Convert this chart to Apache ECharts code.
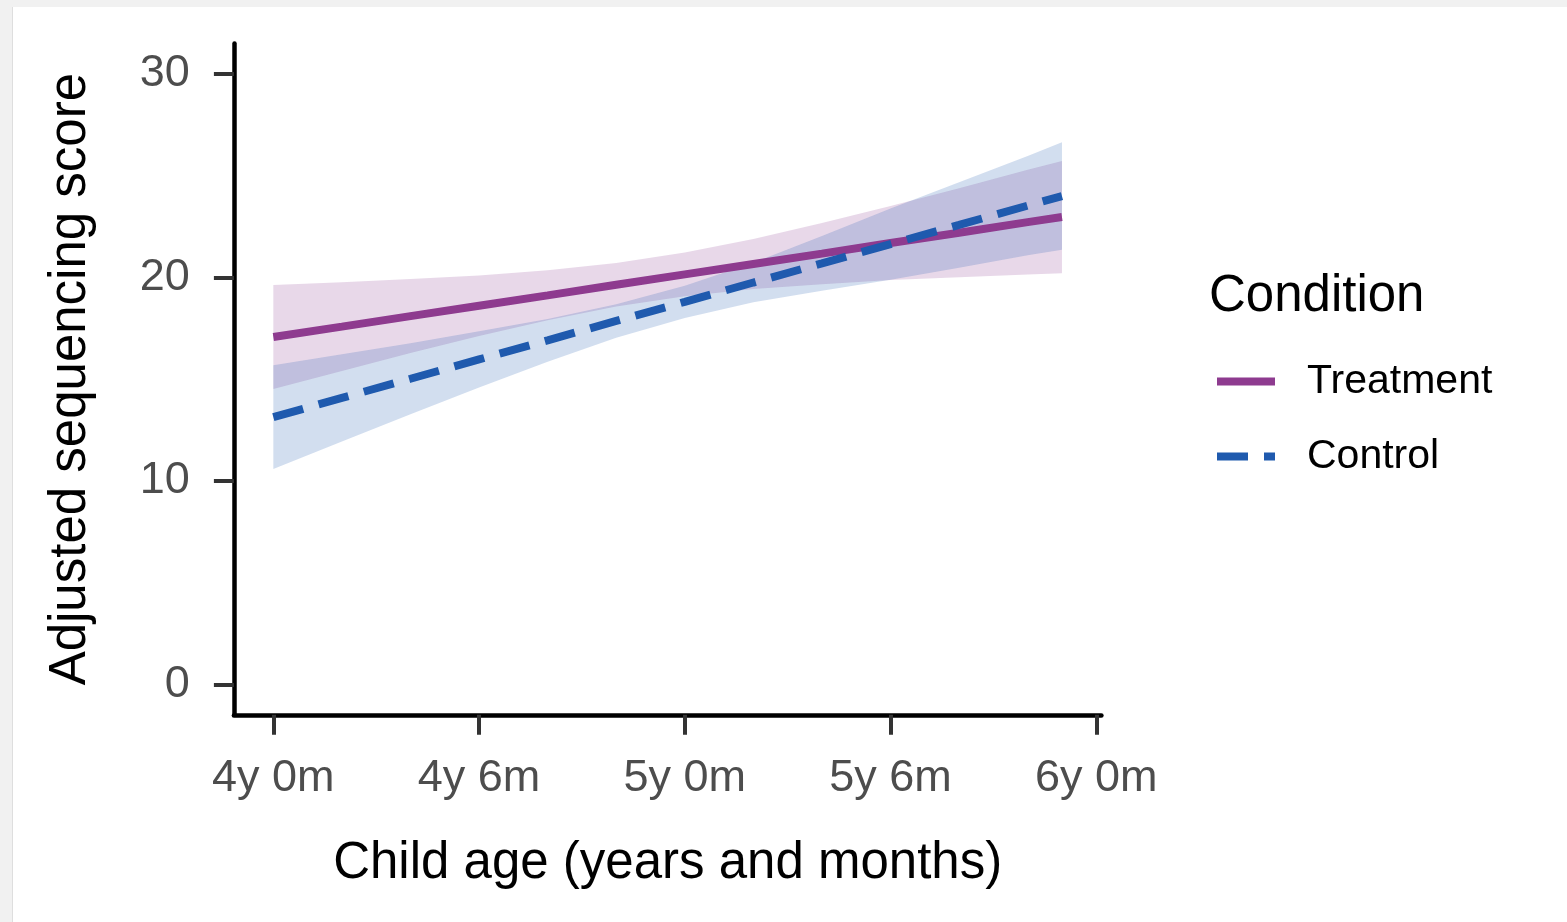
<!DOCTYPE html>
<html>
<head>
<meta charset="utf-8">
<script src="https://cdn.jsdelivr.net/npm/echarts@6/dist/echarts.min.js"></script>
<style>
  html, body { margin: 0; padding: 0; width: 1567px; height: 922px; background: #f1f1f1; overflow: hidden; }
  #panel { position: absolute; left: 12px; top: 7px; right: 0; bottom: 0; background: #ffffff; border-left: 1px solid #dedede; }
  #chart { position: absolute; left: 0; top: 0; width: 1567px; height: 922px; }
</style>
</head>
<body>
<div id="panel"></div>
<div id="chart"></div>
<script>
// ---- data ----
const months = [48, 50, 52, 54, 56, 58, 60, 62, 64, 66, 68, 70, 71];
const treatmentFit   = [17.07, 17.58, 18.10, 18.61, 19.12, 19.64, 20.15, 20.66, 21.17, 21.69, 22.20, 22.72, 22.97];
const treatmentUpper = [19.63, 19.76, 19.92, 20.10, 20.35, 20.71, 21.22, 21.89, 22.67, 23.51, 24.39, 25.29, 25.73];
const treatmentLower = [14.51, 15.40, 16.28, 17.12, 17.90, 18.57, 19.08, 19.43, 19.67, 19.87, 20.01, 20.15, 20.21];
const controlFit     = [13.13, 14.08, 15.02, 15.97, 16.91, 17.86, 18.80, 19.75, 20.69, 21.64, 22.58, 23.53, 24.00];
const controlUpper   = [15.68, 16.22, 16.77, 17.35, 17.96, 18.68, 19.59, 20.72, 22.04, 23.39, 24.68, 25.97, 26.64];
const controlLower   = [10.58, 11.94, 13.27, 14.59, 15.86, 17.04, 18.01, 18.78, 19.34, 19.89, 20.48, 21.09, 21.36];
const xTickValues = [48, 54, 60, 66, 72];
const xTickLabels = ['4y 0m', '4y 6m', '5y 0m', '5y 6m', '6y 0m'];
const yTickValues = [0, 10, 20, 30];
const seriesNames = ['Treatment', 'Control'];

// ---- styles ----
const FONT = '"Liberation Sans", Arial, Helvetica, sans-serif';
const treatColor = '#8E3B8F';
const ctrlColor = '#1F5AAE';

function bandSeries(name, lower, upper, fill) {
  return {
    type: 'custom',
    name: name,
    silent: true,
    data: months.map((m, i) => [m, lower[i], upper[i]]),
    encode: { x: 0, y: [1, 2] },
    renderItem: function (params, api) {
      if (params.dataIndex !== 0) return null;
      const pts = [];
      for (let i = 0; i < months.length; i++) pts.push(api.coord([months[i], upper[i]]));
      for (let i = months.length - 1; i >= 0; i--) pts.push(api.coord([months[i], lower[i]]));
      return { type: 'polygon', shape: { points: pts }, style: { fill: fill, stroke: null } };
    },
    z: 1
  };
}

const chart = echarts.init(document.getElementById('chart'), null, { renderer: 'canvas' });
chart.setOption({
  animation: false,
  backgroundColor: 'transparent',
  grid: { left: 233.9, right: 465.6, top: 43.5, bottom: 207.2, containLabel: false },
  xAxis: {
    type: 'value',
    min: 46.85, max: 72.15,
    axisLine: { show: true, onZero: false, lineStyle: { color: '#000', width: 4.5 } },
    axisTick: { show: true, length: 20, customValues: xTickValues, lineStyle: { color: '#333', width: 4 } },
    axisLabel: {
      customValues: xTickValues,
      margin: 41,
      fontSize: 45, fontFamily: FONT, color: '#4d4d4d', lineHeight: 45,
      formatter: function (v) { const i = xTickValues.indexOf(Math.round(v)); return i >= 0 ? xTickLabels[i] : ''; }
    },
    splitLine: { show: false },
    name: 'Child age (years and months)',
    nameLocation: 'middle',
    nameGap: 124,
    nameTextStyle: { fontSize: 51, fontFamily: FONT, color: '#000', lineHeight: 51 }
  },
  yAxis: {
    type: 'value',
    min: -1.5, max: 31.5,
    axisLine: { show: true, onZero: false, lineStyle: { color: '#000', width: 4.5 } },
    axisTick: { show: true, length: 20, customValues: yTickValues, lineStyle: { color: '#333', width: 4 } },
    axisLabel: {
      customValues: yTickValues,
      margin: 44,
      fontSize: 45, fontFamily: FONT, color: '#4d4d4d', lineHeight: 45
    },
    splitLine: { show: false },
    name: 'Adjusted sequencing score',
    nameLocation: 'middle',
    nameGap: 137,
    nameTextStyle: { fontSize: 51, fontFamily: FONT, color: '#000', lineHeight: 51 }
  },
  legend: {
    data: [
      { name: seriesNames[0], icon: 'path://M0,0H58V8H0Z' },
      { name: seriesNames[1], icon: 'path://M0,0H31V8H0ZM47,0H58V8H47Z' }
    ],
    orient: 'vertical',
    left: 1217, top: 361,
    padding: 0,
    itemWidth: 58, itemHeight: 8, itemGap: 34,
    selectedMode: false,
    itemStyle: { borderWidth: 0 },
    textStyle: { fontSize: 41, fontFamily: FONT, color: '#000', lineHeight: 40, padding: [0, 0, 0, 27] }
  },
  graphic: [
    { type: 'text', left: 1209, top: 271, style: { text: 'Condition', font: '51px ' + FONT, fill: '#000' } }
  ],
  series: [
    bandSeries('Treatment band', treatmentLower, treatmentUpper, 'rgba(142,59,143,0.2)'),
    bandSeries('Control band', controlLower, controlUpper, 'rgba(31,90,174,0.2)'),
    {
      type: 'line', name: seriesNames[0],
      data: months.map((m, i) => [m, treatmentFit[i]]),
      symbol: 'none', showSymbol: false,
      lineStyle: { color: treatColor, width: 8, type: 'solid', cap: 'butt' },
      itemStyle: { color: treatColor },
      z: 3
    },
    {
      type: 'line', name: seriesNames[1],
      data: months.map((m, i) => [m, controlFit[i]]),
      symbol: 'none', showSymbol: false,
      lineStyle: { color: ctrlColor, width: 8, type: [31, 16], cap: 'butt' },
      itemStyle: { color: ctrlColor },
      z: 4
    }
  ]
});
</script>
</body>
</html>
